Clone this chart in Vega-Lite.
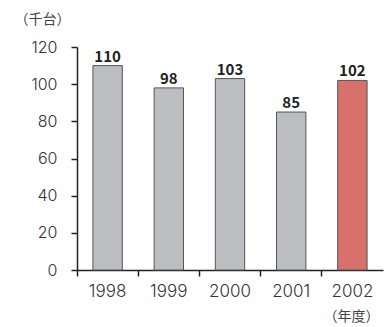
{
  "$schema": "https://vega.github.io/schema/vega-lite/v6.json",
  "width": 306,
  "height": 223,
  "autosize": "none",
  "padding": {"left": 77, "top": 47, "right": 9, "bottom": 57},
  "background": "white",
  "config": {
    "view": {"stroke": null},
    "font": "Noto Sans CJK JP"
  },
  "data": {
    "values": [
      {"year": "1998", "value": 110, "kind": "past"},
      {"year": "1999", "value": 98, "kind": "past"},
      {"year": "2000", "value": 103, "kind": "past"},
      {"year": "2001", "value": 85, "kind": "past"},
      {"year": "2002", "value": 102, "kind": "current"}
    ]
  },
  "encoding": {
    "x": {
      "field": "year",
      "type": "ordinal",
      "scale": {"paddingInner": 0, "paddingOuter": 0},
      "axis": {
        "title": "（年度）",
        "titleX": 274,
        "titleY": 46,
        "titleAlign": "center",
        "titleBaseline": "middle",
        "titleFontSize": 14,
        "titleFontWeight": "normal",
        "titleColor": "#444444",
        "labelAngle": 0,
        "bandPosition": 0,
        "labelOffset": 0,
        "labelFont": "Inter",
        "labelFontWeight": 300,
        "labelFontSize": 17,
        "labelColor": "#333333",
        "labelPadding": 7,
        "tickSize": 6,
        "tickColor": "#222222",
        "tickWidth": 1.5,
        "domainColor": "#222222",
        "domainWidth": 1.5
      }
    },
    "y": {
      "field": "value",
      "type": "quantitative",
      "scale": {"domain": [0, 120]},
      "axis": {
        "title": "（千台）",
        "titleAngle": 0,
        "titleX": -35,
        "titleY": -28,
        "titleAlign": "center",
        "titleBaseline": "middle",
        "titleFontSize": 14,
        "titleFontWeight": "normal",
        "titleColor": "#444444",
        "values": [0, 20, 40, 60, 80, 100, 120],
        "grid": false,
        "labelFont": "Inter",
        "labelFontWeight": 300,
        "labelFontSize": 16,
        "labelColor": "#333333",
        "labelPadding": 14,
        "tickSize": 6,
        "tickColor": "#222222",
        "tickWidth": 1.5,
        "domainColor": "#222222",
        "domainWidth": 1.5
      }
    }
  },
  "layer": [
    {
      "mark": {"type": "bar", "width": {"band": 0.48}, "stroke": "#555555", "strokeWidth": 1},
      "encoding": {
        "color": {
          "field": "kind",
          "type": "nominal",
          "scale": {"domain": ["past", "current"], "range": ["#bcbdc1", "#d9716b"]},
          "legend": null
        }
      }
    },
    {
      "mark": {"type": "text", "dy": -4, "baseline": "alphabetic", "fontSize": 15, "fontWeight": "bold", "color": "#222222"},
      "encoding": {"text": {"field": "value", "type": "quantitative"}}
    }
  ]
}
